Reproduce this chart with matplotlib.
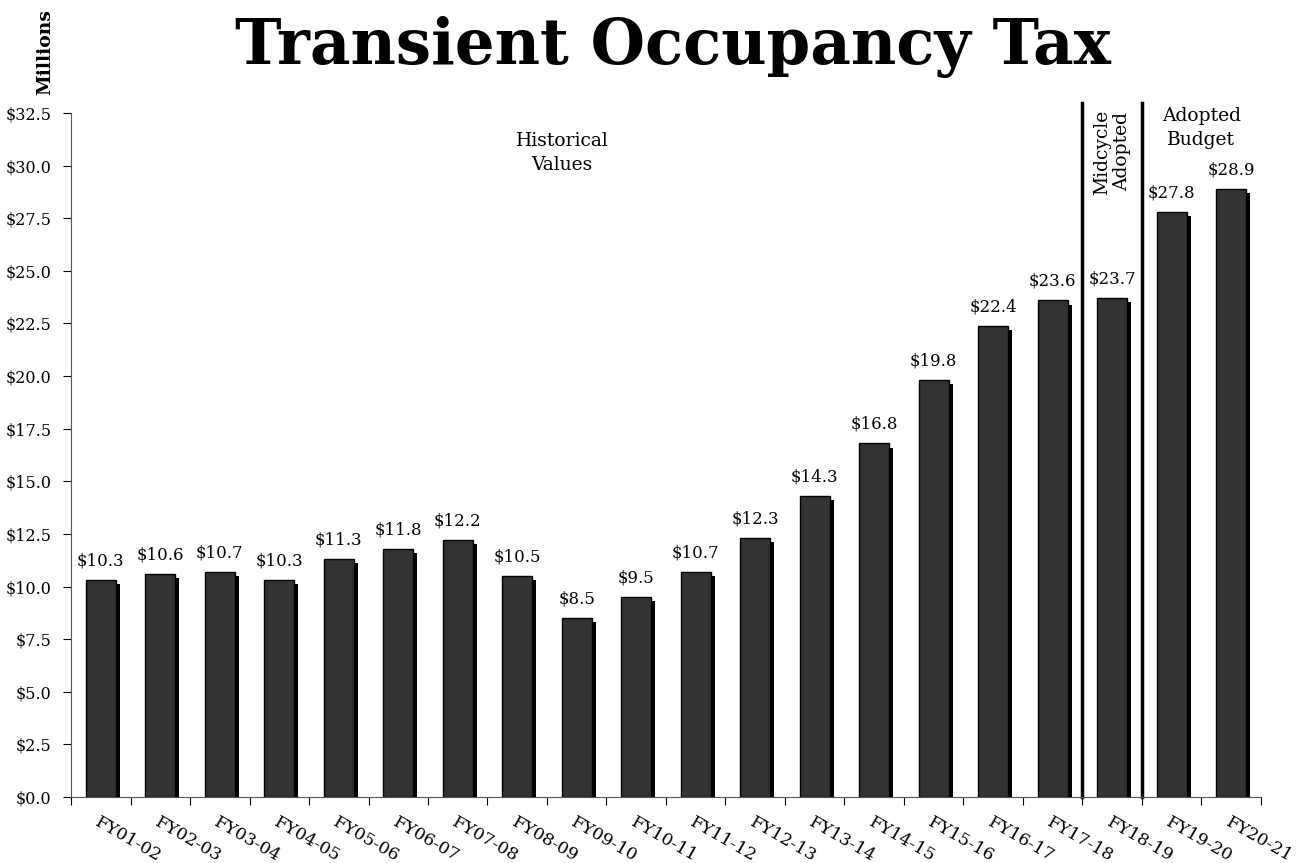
import numpy as np
import matplotlib.pyplot as plt
import matplotlib.patheffects as pe

years = ["FY01-02", "FY02-03", "FY03-04", "FY04-05", "FY05-06", "FY06-07",
         "FY07-08", "FY08-09", "FY09-10", "FY10-11", "FY11-12", "FY12-13",
         "FY13-14", "FY14-15", "FY15-16", "FY16-17", "FY17-18", "FY18-19",
         "FY19-20", "FY20-21"]
tot = [10.3, 10.6, 10.7, 10.3, 11.3, 11.8, 12.2, 10.5, 8.5, 9.5, 10.7, 12.3,
       14.3, 16.8, 19.8, 22.4, 23.6, 23.7, 27.8, 28.9]
yticks = np.arange(0, 32.6, 2.5)

plt.rcParams['font.family'] = 'DejaVu Serif'

fig = plt.figure(figsize=(13.01, 8.63), dpi=100)
ax = fig.add_axes([0.0546, 0.0765, 0.9146, 0.7925])

x = np.arange(len(years))
bars = ax.bar(x, tot, width=0.5, color='#333333', edgecolor='black', linewidth=1)
# drop shadow down/right of each bar
for b in bars:
    b.set_path_effects([pe.SimplePatchShadow(offset=(3, -3), shadow_rgbFace='black', alpha=1),
                        pe.Normal()])

for xi, v in zip(x, tot):
    ax.text(xi, v + 0.5, f"${v:.1f}", ha='center', va='bottom', fontsize=12)

ax.set_xlim(-0.5, len(years) - 0.5)
ax.set_ylim(0, 32.5)
ax.set_yticks(yticks)
ax.set_yticklabels([f"${t:.1f}" for t in yticks], fontsize=11.5)
# tick marks between categories, labels at the centres
ax.set_xticks(np.arange(-0.5, len(years), 1))
ax.set_xticklabels([])
ax.set_xticks(x, minor=True)
ax.set_xticklabels(years, minor=True, rotation=-30, ha='left', va='top',
                   rotation_mode='anchor', fontsize=12.5)
ax.tick_params(axis='x', which='minor', length=0, pad=12)
ax.tick_params(axis='x', which='major', length=6, direction='out')
ax.tick_params(axis='y', length=6, direction='out', pad=8)
for s in ['top', 'right']:
    ax.spines[s].set_visible(False)
ax.spines['left'].set_color('#555555')
ax.spines['bottom'].set_color('#555555')

for xv in [16.5, 17.5]:
    ax.plot([xv, xv], [0, 33.0], color='black', lw=2.5, clip_on=False)

ax.text(7.75, 30.6, "Historical\nValues", ha='center', va='center', fontsize=13.5,
        linespacing=1.45)
ax.text(18.5, 31.8, "Adopted\nBudget", ha='center', va='center', fontsize=13.5,
        linespacing=1.45)
ax.text(17.0, 30.65, "Midcycle\nAdopted", ha='center', va='center', fontsize=13.5,
        rotation=90, linespacing=1.2)

fig.text(0.035, 0.99, "Millions", rotation=90, ha='center', va='top',
         fontsize=13.5, fontweight='bold')
fig.text(0.517, 0.945, "Transient Occupancy Tax", ha='center', va='center',
         fontsize=45, fontweight='bold')

fig.savefig("out.png", dpi=100)
